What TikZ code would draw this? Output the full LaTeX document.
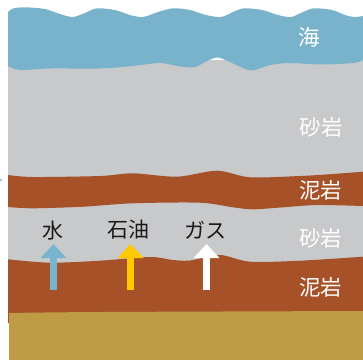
\documentclass[tikz,border=0pt]{standalone}
\usepackage{fontspec}
\newfontfamily\jpfont{Noto Sans CJK JP}
\usetikzlibrary{arrows.meta}
\definecolor{seacol}{HTML}{78B3CB}
\definecolor{sandcol}{HTML}{C8C9CB}
\definecolor{mudcol}{HTML}{A65128}
\definecolor{basecol}{HTML}{BF9B46}
\definecolor{oilcol}{HTML}{FFC800}
\definecolor{watercol}{HTML}{78B4CF}
\begin{document}
\begin{tikzpicture}[x=1bp,y=-1bp,
  layerlabel/.style={text=white, inner sep=0pt, anchor=west,
    font=\jpfont\fontsize{21.5bp}{24bp}\selectfont},
  fluidlabel/.style={text=black!90, inner sep=0pt,
    font=\jpfont\fontsize{21bp}{24bp}\selectfont},
  fluidarrow/.style={line width=7bp,
    -{Triangle[width=25bp,length=14bp]}}]
\useasboundingbox (0,0) rectangle (363,360);

% sandstone background
\fill[sandcol] (8,60) rectangle (363,320);

% sea
\fill[seacol] plot[smooth] coordinates {(8,12) (13,8.5) (25,7.3) (45,9) (60,14) (73,17)
    (86,12.5) (97,8.3) (115,10) (130,15) (143,17) (158,12) (173,8.3) (190,10)
    (206,15) (221,17) (233,12) (244,8.3) (262,10) (278,15) (291,17) (303,12)
    (314,8.3) (332,10) (345,15) (354,17) (363,16)}
  -- plot[smooth] coordinates {(363,60) (354,63) (320,64.5) (290,63) (270,65)
    (251,70.5) (232,63) (218,57.5) (207,61) (195,67) (180,66.5) (160,63)
    (133,66) (100,68.5) (50,68.5) (20,70) (8,66)}
  -- cycle;

% upper mudstone
\fill[mudcol] plot[smooth] coordinates {(8,175) (33,177) (100,176) (133,173.3)
    (177,176.7) (217,170.7) (250,177.3) (300,176) (333,174) (363,171.7)}
  -- plot[smooth] coordinates {(363,206) (317,205) (283,207.3) (253,209.3)
    (233,207.3) (200,202.7) (133,203.3) (83,206.7) (33,208.3) (8,207)}
  -- cycle;

% lower mudstone
\fill[mudcol] plot[smooth] coordinates {(8,259.3) (50,262.7) (100,260.7) (150,257)
    (173,260) (190,260.5) (220,255) (250,261.7) (300,260.7) (363,256.7)}
  -- (363,323) -- (8,323) -- cycle;

% basement
\fill[basecol] plot[smooth] coordinates {(9,313) (100,312) (363,311)}
  -- (363,360) -- (9,360) -- cycle;

\fill[seacol] (1,180) circle (1.2);

% layer names
\node[layerlabel] (sea) at (298.5,37.5) {海};
\node[layerlabel] (sand1) at (299.5,127.5) {砂岩};
\node[layerlabel] (mud1) at (299,190.5) {泥岩};
\node[layerlabel] (sand2) at (299,238) {砂岩};
\node[layerlabel] (mud2) at (299,287.5) {泥岩};

% migrating fluids
\node[fluidlabel] (water) at (53,230.5) {水};
\node[fluidlabel] (oil) at (128.5,230) {石油};
\node[fluidlabel] (gas) at (205.5,230) {ガス};

\coordinate (watertail) at (53.5,290);
\coordinate (watertip) at (53.5,244);
\coordinate (oiltail) at (130.5,290);
\coordinate (oiltip) at (130.5,244);
\coordinate (gastail) at (206.5,290);
\coordinate (gastip) at (206.5,244);

\draw[fluidarrow, watercol] (watertail) -- (watertip);
\draw[fluidarrow, oilcol] (oiltail) -- (oiltip);
\draw[fluidarrow, white] (gastail) -- (gastip);
\end{tikzpicture}
\end{document}
